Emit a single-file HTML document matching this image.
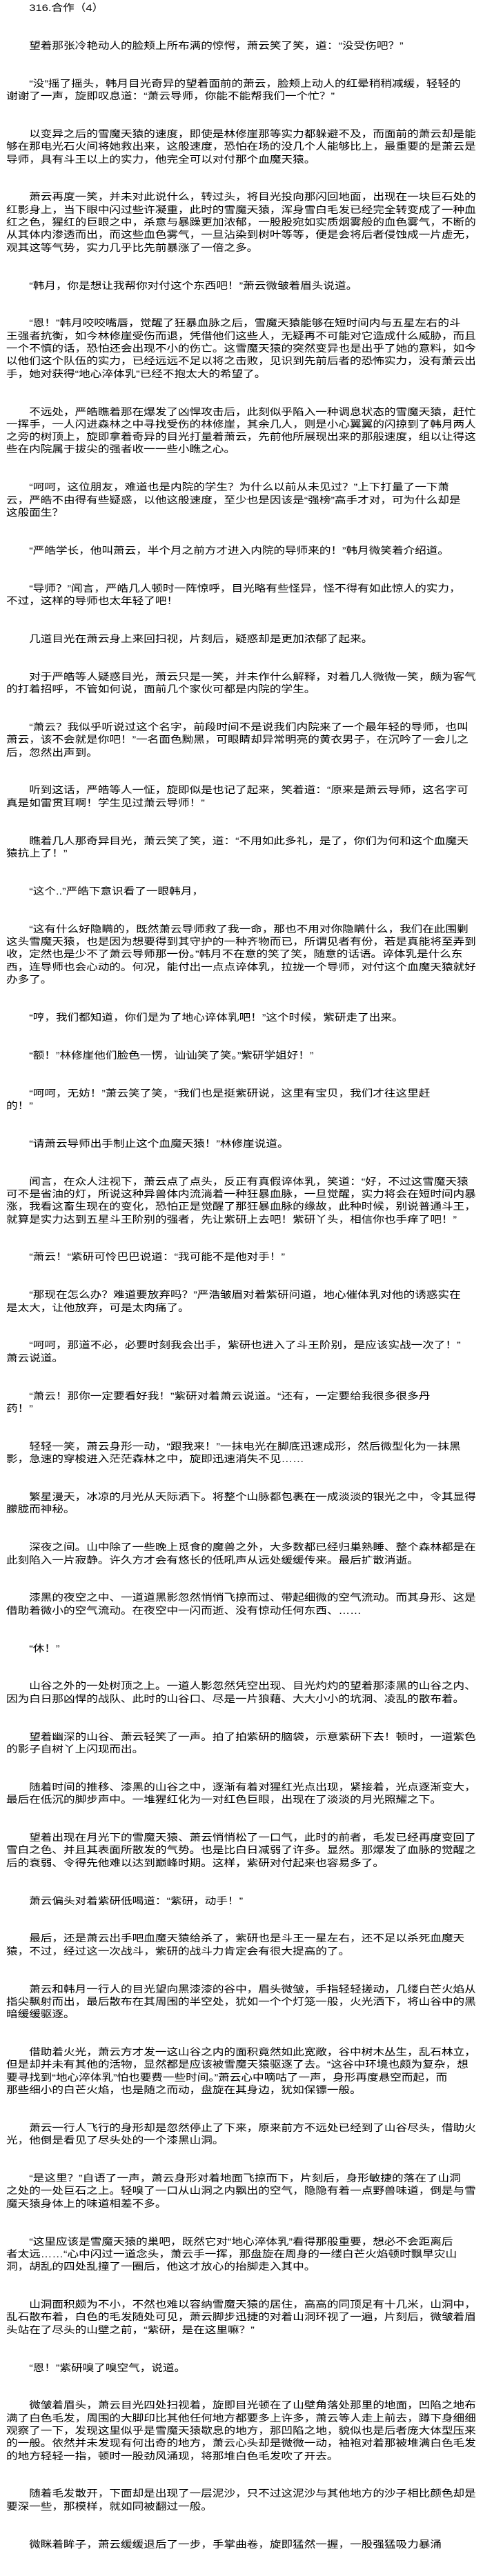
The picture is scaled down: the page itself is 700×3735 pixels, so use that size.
<!DOCTYPE html>
<html lang="zh">
<head>
<meta charset="utf-8">
<style>
html,body{margin:0;padding:0;background:#fff;}
body{width:700px;height:3698px;overflow:hidden;position:relative;}
.c{position:absolute;left:9px;top:2px;width:560px;transform:scaleX(1.186);transform-origin:0 0;
font-family:"Liberation Sans","Noto Sans CJK SC",sans-serif;font-size:14px;line-height:18.3px;color:#000;white-space:nowrap;}
.c p{margin:0 0 36.6px 0;text-indent:28px;}
</style>
</head>
<body>
<div class="c">
<p>316.合作（4）</p>
<p>望着那张冷艳动人的脸颊上所布满的惊愕，萧云笑了笑，道：“没受伤吧？”</p>
<p>“没”摇了摇头，韩月目光奇异的望着面前的萧云，脸颊上动人的红晕稍稍减缓，轻轻的<br>谢谢了一声，旋即叹息道：“萧云导师，你能不能帮我们一个忙？”</p>
<p>以变异之后的雪魔天猿的速度，即使是林修崖那等实力都躲避不及，而面前的萧云却是能<br>够在那电光石火间将她救出来，这般速度，恐怕在场的没几个人能够比上，最重要的是萧云是<br>导师，具有斗王以上的实力，他完全可以对付那个血魔天猿。</p>
<p>萧云再度一笑，并未对此说什么，转过头，将目光投向那闪回地面，出现在一块巨石处的<br>红影身上，当下眼中闪过些许凝重，此时的雪魔天猿，浑身雪白毛发已经完全转变成了一种血<br>红之色，猩红的巨眼之中，杀意与暴躁更加浓郁，一股股宛如实质烟雾般的血色雾气，不断的<br>从其体内渗透而出，而这些血色雾气，一旦沾染到树叶等等，便是会将后者侵蚀成一片虚无，<br>观其这等气势，实力几乎比先前暴涨了一倍之多。</p>
<p>“韩月，你是想让我帮你对付这个东西吧！”萧云微皱着眉头说道。</p>
<p>“恩！”韩月咬咬嘴唇，觉醒了狂暴血脉之后，雪魔天猿能够在短时间内与五星左右的斗<br>王强者抗衡，如今林修崖受伤而退，凭借他们这些人，无疑再不可能对它造成什么威胁，而且<br>一个不慎的话，恐怕还会出现不小的伤亡。这雪魔天猿的突然变异也是出乎了她的意料，如今<br>以他们这个队伍的实力，已经远远不足以将之击败，见识到先前后者的恐怖实力，没有萧云出<br>手，她对获得“地心淬体乳”已经不抱太大的希望了。</p>
<p>不远处，严皓瞧着那在爆发了凶悍攻击后，此刻似乎陷入一种调息状态的雪魔天猿，赶忙<br>一挥手，一人闪进森林之中寻找受伤的林修崖，其余几人，则是小心翼翼的闪掠到了韩月两人<br>之旁的树顶上，旋即拿着奇异的目光打量着萧云，先前他所展现出来的那般速度，组以让得这<br>些在内院属于拔尖的强者收一一些小瞧之心。</p>
<p>“呵呵，这位朋友，难道也是内院的学生？为什么以前从未见过？”上下打量了一下萧<br>云，严皓不由得有些疑惑，以他这般速度，至少也是因该是“强榜”高手才对，可为什么却是<br>这般面生？</p>
<p>“严皓学长，他叫萧云，半个月之前方才进入内院的导师来的！”韩月微笑着介绍道。</p>
<p>“导师？”闻言，严皓几人顿时一阵惊呼，目光略有些怪异，怪不得有如此惊人的实力，<br>不过，这样的导师也太年轻了吧！</p>
<p>几道目光在萧云身上来回扫视，片刻后，疑惑却是更加浓郁了起来。</p>
<p>对于严皓等人疑惑目光，萧云只是一笑，并未作什么解释，对着几人微微一笑，颇为客气<br>的打着招呼，不管如何说，面前几个家伙可都是内院的学生。</p>
<p>“萧云？我似乎听说过这个名字，前段时间不是说我们内院来了一个最年轻的导师，也叫<br>萧云，该不会就是你吧！”一名面色黝黑，可眼睛却异常明亮的黄衣男子，在沉吟了一会儿之<br>后，忽然出声到。</p>
<p>听到这话，严皓等人一怔，旋即似是也记了起来，笑着道：“原来是萧云导师，这名字可<br>真是如雷贯耳啊！学生见过萧云导师！”</p>
<p>瞧着几人那奇异目光，萧云笑了笑，道：“不用如此多礼，是了，你们为何和这个血魔天<br>猿抗上了！”</p>
<p>“这个..”严皓下意识看了一眼韩月，</p>
<p>“这有什么好隐瞒的，既然萧云导师救了我一命，那也不用对你隐瞒什么，我们在此围剿<br>这头雪魔天猿，也是因为想要得到其守护的一种齐物而已，所谓见者有份，若是真能将至弄到<br>收，定然也是少不了萧云导师那一份。”韩月不在意的笑了笑，随意的话语。谇体乳是什么东<br>西，连导师也会心动的。何况，能付出一点点谇体乳，拉拢一个导师，对付这个血魔天猿就好<br>办多了。</p>
<p>“哼，我们都知道，你们是为了地心谇体乳吧！”这个时候，紫研走了出来。</p>
<p>“额！”林修崖他们脸色一愣，讪讪笑了笑。”紫研学姐好！”</p>
<p>“呵呵，无妨！”萧云笑了笑，“我们也是挺紫研说，这里有宝贝，我们才往这里赶<br>的！”</p>
<p>“请萧云导师出手制止这个血魔天猿！”林修崖说道。</p>
<p>闻言，在众人注视下，萧云点了点头，反正有真假谇体乳，笑道：“好，不过这雪魔天猿<br>可不是省油的灯，所说这种异兽体内流淌着一种狂暴血脉，一旦觉醒，实力将会在短时间内暴<br>涨，我看这畜生现在的变化，恐怕正是觉醒了那狂暴血脉的缘故，此种时候，别说普通斗王，<br>就算是实力达到五星斗王阶别的强者，先让紫研上去吧！紫研丫头，相信你也手痒了吧！”</p>
<p>“萧云！“紫研可怜巴巴说道：“我可能不是他对手！”</p>
<p>“那现在怎么办？难道要放弃吗？”严浩皱眉对着紫研问道，地心催体乳对他的诱惑实在<br>是太大，让他放弃，可是太肉痛了。</p>
<p>“呵呵，那道不必，必要时刻我会出手，紫研也进入了斗王阶别，是应该实战一次了！”<br>萧云说道。</p>
<p>“萧云！那你一定要看好我！”紫研对着萧云说道。“还有，一定要给我很多很多丹<br>药！”</p>
<p>轻轻一笑，萧云身形一动，“跟我来！”一抹电光在脚底迅速成形，然后微型化为一抹黑<br>影，急速的穿梭进入茫茫森林之中，旋即迅速消失不见……</p>
<p>繁星漫天，冰凉的月光从天际洒下。将整个山脉都包裹在一成淡淡的银光之中，令其显得<br>朦胧而神秘。</p>
<p>深夜之间。山中除了一些晚上觅食的魔兽之外，大多数都已经归巢熟睡、整个森林都是在<br>此刻陷入一片寂静。许久方才会有悠长的低吼声从远处缓缓传来。最后扩散消逝。</p>
<p>漆黑的夜空之中、一道道黑影忽然悄悄飞掠而过、带起细微的空气流动。而其身形、这是<br>借助着微小的空气流动。在夜空中一闪而逝、没有惊动任何东西、……</p>
<p>“休！”</p>
<p>山谷之外的一处树顶之上。一道人影忽然凭空出现、目光灼灼的望着那漆黑的山谷之内、<br>因为白日那凶悍的战队、此时的山谷口、尽是一片狼藉、大大小小的坑洞、凌乱的散布着。</p>
<p>望着幽深的山谷、萧云轻笑了一声。拍了拍紫研的脑袋，示意紫研下去！顿时，一道紫色<br>的影子自树丫上闪现而出。</p>
<p>随着时间的推移、漆黑的山谷之中，逐渐有着对猩红光点出现，紧接着，光点逐渐变大，<br>最后在低沉的脚步声中。一堆猩红化为一对红色巨眼，出现在了淡淡的月光照耀之下。</p>
<p>望着出现在月光下的雪魔天猿、萧云悄悄松了一口气，此时的前者，毛发已经再度变回了<br>雪白之色、并且其表面所散发的气势。也是比白日减弱了许多。显然。那爆发了血脉的觉醒之<br>后的衰弱、令得先他难以达到巅峰时期。这样，紫研对付起来也容易多了。</p>
<p>萧云偏头对着紫研低喝道：“紫研，动手！”</p>
<p>最后，还是萧云出手吧血魔天猿给杀了，紫研也是斗王一星左右，还不足以杀死血魔天<br>猿，不过，经过这一次战斗，紫研的战斗力肯定会有很大提高的了。</p>
<p>萧云和韩月一行人的目光望向黑漆漆的谷中，眉头微皱，手指轻轻搓动，几缕白芒火焰从<br>指尖飘射而出，最后散布在其周围的半空处，犹如一个个灯笼一般，火光洒下，将山谷中的黑<br>暗缓缓驱逐。</p>
<p>借助着火光，萧云方才发一这山谷之内的面积竟然如此宽敞，谷中树木丛生，乱石林立，<br>但是却并未有其他的活物，显然都是应该被雪魔天猿驱逐了去。“这谷中环境也颇为复杂，想<br>要寻找到“地心淬体乳”怕也要费一些时间。”萧云心中嘀咕了一声，身形再度悬空而起，而<br>那些细小的白芒火焰，也是随之而动，盘旋在其身边，犹如保镖一般。</p>
<p>萧云一行人飞行的身形却是忽然停止了下来，原来前方不远处已经到了山谷尽头，借助火<br>光，他倒是看见了尽头处的一个漆黑山洞。</p>
<p>“是这里？”自语了一声，萧云身形对着地面飞掠而下，片刻后，身形敏捷的落在了山洞<br>之处的一处巨石之上。轻嗅了一口从山洞之内飘出的空气，隐隐有着一点野兽味道，倒是与雪<br>魔天猿身体上的味道相差不多。</p>
<p>“这里应该是雪魔天猿的巢吧，既然它对“地心淬体乳”看得那般重要，想必不会距离后<br>者太远……“心中闪过一道念头，萧云手一挥，那盘旋在周身的一缕白芒火焰顿时飘早灾山<br>洞，胡乱的四处乱撞了一圈后，他这才放心的抬脚走入其中。</p>
<p>山洞面积颇为不小，不然也难以容纳雪魔天猿的居住，高高的同顶足有十几米，山洞中，<br>乱石散布着，白色的毛发随处可见，萧云脚步迅捷的对着山洞环视了一遍，片刻后，微皱着眉<br>头站在了尽头的山壁之前，“紫研，是在这里嘛？”</p>
<p>“恩！”紫研嗅了嗅空气，说道。</p>
<p>微皱着眉头，萧云目光四处扫视着，旋即目光顿在了山壁角落处那里的地面，凹陷之地布<br>满了白色毛发，周围的大脚印比其他任何地方都要多上许多，萧云等人走上前去，蹲下身细细<br>观察了一下，发现这里似乎是雪魔天猿歇息的地方，那凹陷之地，貌似也是后者庞大体型压来<br>的一般。依然并未发现有何出奇的地方，萧云心头却是微微一动，袖袍对着那被堆满白色毛发<br>的地方轻轻一指，顿时一股劲风涌现，将那堆白色毛发吹了开去。</p>
<p>随着毛发散开，下面却是出现了一层泥沙，只不过这泥沙与其他地方的沙子相比颜色却是<br>要深一些，那模样，就如同被翻过一般。</p>
<p>微眯着眸子，萧云缓缓退后了一步，手掌曲卷，旋即猛然一握，一股强猛吸力暴涌</p>
</div>
</body>
</html>
